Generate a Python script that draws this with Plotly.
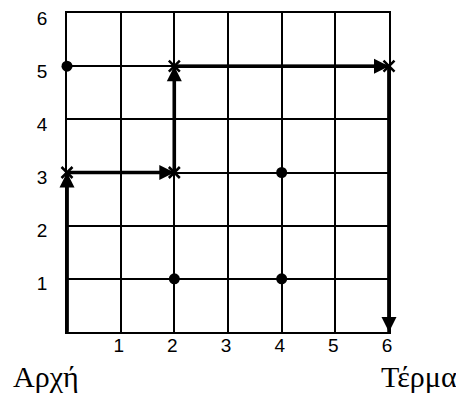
import plotly.graph_objects as go

# Data
path_x = [0, 0, 2, 2, 6, 6]
path_y = [0, 3, 3, 5, 5, 0]
cross_x = [0, 2, 2, 6]
cross_y = [3, 3, 5, 5]
dot_x = [0, 2, 4, 4]
dot_y = [5, 1, 1, 3]
tick_vals = [1, 2, 3, 4, 5, 6]
tick_text = ["1", "2", "3", "4", "5", "6"]
start_label = "Αρχή"
end_label = "Τέρμα"

fig = go.Figure()

# thick path line
fig.add_trace(go.Scatter(x=path_x, y=path_y, mode="lines",
                         line=dict(color="black", width=3.5),
                         hoverinfo="skip", showlegend=False, cliponaxis=False))
# crosses
fig.add_trace(go.Scatter(x=cross_x, y=cross_y, mode="markers",
                         marker=dict(symbol="x-thin", size=11,
                                     line=dict(color="black", width=2.5)),
                         showlegend=False, cliponaxis=False))
# dots
fig.add_trace(go.Scatter(x=dot_x, y=dot_y, mode="markers",
                         marker=dict(symbol="circle", size=11, color="black"),
                         showlegend=False, cliponaxis=False))

annotations = []
for i in range(len(path_x) - 1):
    annotations.append(dict(
        x=path_x[i + 1], y=path_y[i + 1], ax=path_x[i], ay=path_y[i],
        xref="x", yref="y", axref="x", ayref="y",
        showarrow=True, arrowhead=2, arrowsize=1.0, arrowwidth=3,
        arrowcolor="black", text="", standoff=0))

annotations.append(dict(x=-0.065, y=-0.141, xref="paper", yref="paper",
                        text=start_label, showarrow=False,
                        xanchor="center", yanchor="middle",
                        font=dict(family="Liberation Serif", size=30, color="black")))
annotations.append(dict(x=1.093, y=-0.141, xref="paper", yref="paper",
                        text=end_label, showarrow=False,
                        xanchor="center", yanchor="middle",
                        font=dict(family="Liberation Serif", size=30, color="black")))

axis_common = dict(range=[0, 6], dtick=1, showgrid=True, gridcolor="black",
                   gridwidth=1.5, showline=True, linecolor="black", linewidth=1.5,
                   mirror=True, zeroline=False, tickmode="array",
                   tickvals=tick_vals, ticktext=tick_text, ticks="",
                   tickfont=dict(family="Liberation Sans", size=19, color="black"),
                   fixedrange=True, automargin=False)

fig.update_layout(
    width=456, height=398, autosize=False,
    margin=dict(l=59, r=75, t=5, b=74),
    paper_bgcolor="white", plot_bgcolor="white",
    xaxis=dict(**axis_common, ticklabelstandoff=-5, ticklabelshift=-2),
    yaxis=dict(**axis_common, ticklabelstandoff=14, ticklabelshift=5,
               ticklabeloverflow="allow"),
    annotations=annotations,
    showlegend=False,
)

fig.write_html("out.html")
